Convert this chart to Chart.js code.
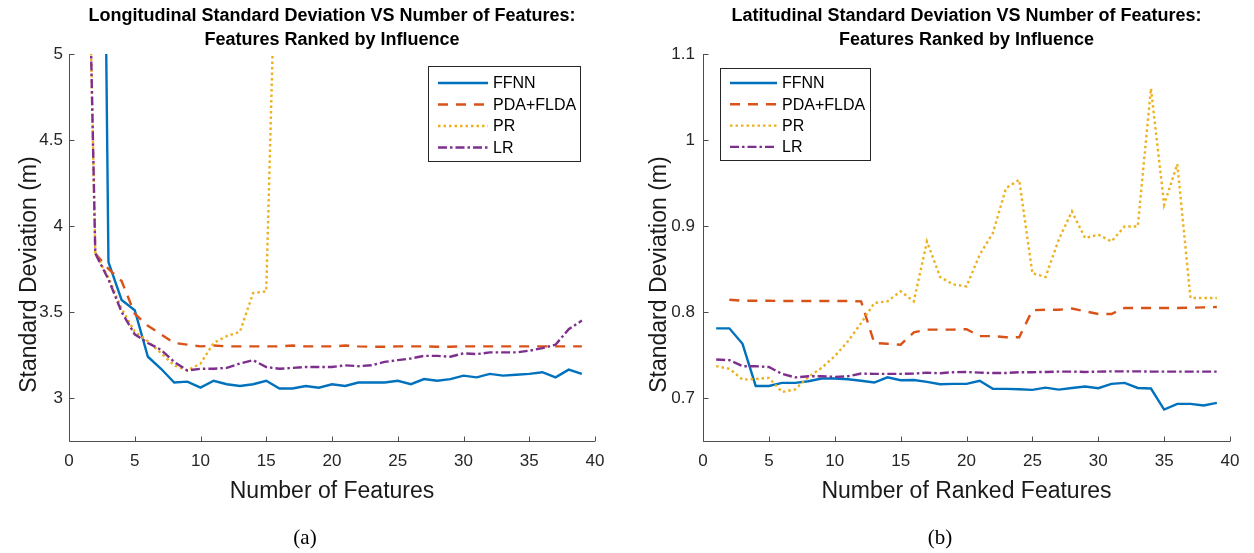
<!DOCTYPE html>
<html>
<head>
<meta charset="utf-8">
<title>Standard deviation vs number of features</title>
<script src="https://cdn.jsdelivr.net/npm/chart.js@4.4.1/dist/chart.umd.min.js"></script>
<style>
  body { margin: 0; background: #fff; }
  #wrap { position: relative; width: 1254px; height: 553px; overflow: hidden; }
  canvas { position: absolute; top: 0; }
  #lonChart { left: 0; }
  #latChart { left: 627px; }
  .caption {
    position: absolute; top: 525px; width: 60px; text-align: center;
    font-family: 'Liberation Serif', 'DejaVu Serif', serif; font-size: 21px; color: #000;
  }
</style>
</head>
<body>
<div id="wrap">
  <canvas id="lonChart" width="627" height="553"></canvas>
  <canvas id="latChart" width="627" height="553"></canvas>
  <div class="caption" style="left:275px">(a)</div>
  <div class="caption" style="left:910px">(b)</div>
</div>
<script>
// number of features used (x axis)
const features = [1, 2, 3, 4, 5, 6, 7, 8, 9, 10, 11, 12, 13, 14, 15, 16, 17, 18, 19, 20,
  21, 22, 23, 24, 25, 26, 27, 28, 29, 30, 31, 32, 33, 34, 35, 36, 37, 38, 39];

const xTicks = [0, 5, 10, 15, 20, 25, 30, 35, 40];
const lonTicks = [3, 3.5, 4, 4.5, 5];
const latTicks = [0.7, 0.8, 0.9, 1, 1.1];

const methods = ['FFNN', 'PDA+FLDA', 'PR', 'LR'];

// longitudinal standard deviation (m)
const ffnnLon = [20, 11, 3.79, 3.57, 3.51, 3.24, 3.17, 3.09, 3.095, 3.06,
  3.10, 3.08, 3.07, 3.08, 3.10, 3.055, 3.055, 3.07, 3.06, 3.08,
  3.07, 3.09, 3.09, 3.09, 3.10, 3.08, 3.11, 3.10, 3.11, 3.13,
  3.12, 3.14, 3.13, 3.135, 3.14, 3.15, 3.12, 3.165, 3.14];
const pdaLon = [null, 3.84, 3.75, 3.68, 3.49, 3.42, 3.37, 3.32, 3.31, 3.30,
  3.305, 3.30, 3.30, 3.30, 3.30, 3.30, 3.305, 3.30, 3.30, 3.30,
  3.305, 3.30, 3.298, 3.298, 3.30, 3.30, 3.30, 3.298, 3.298, 3.30,
  3.30, 3.30, 3.30, 3.30, 3.30, 3.30, 3.30, 3.30, 3.30];
const prLon = [7.5, 3.84, 3.70, 3.52, 3.385, 3.33, 3.26, 3.19, 3.16, 3.20,
  3.32, 3.36, 3.385, 3.61, 3.62, 6.5];
const lrLon = [7.5, 3.84, 3.69, 3.50, 3.37, 3.32, 3.28, 3.21, 3.16, 3.17,
  3.17, 3.175, 3.20, 3.22, 3.18, 3.17, 3.175, 3.18, 3.18, 3.18,
  3.19, 3.185, 3.19, 3.21, 3.22, 3.23, 3.245, 3.245, 3.24, 3.26,
  3.255, 3.265, 3.265, 3.265, 3.275, 3.29, 3.31, 3.40, 3.45];

// latitudinal standard deviation (m)
const ffnnLat = [0.781, 0.781, 0.763, 0.714, 0.714, 0.7176, 0.7176, 0.7195, 0.7226, 0.7226,
  0.7218, 0.720, 0.718, 0.724, 0.7207, 0.721, 0.7187, 0.716, 0.7164, 0.7164,
  0.720, 0.7106, 0.7106, 0.7102, 0.7094, 0.7121, 0.7098, 0.7117, 0.7133, 0.7114,
  0.7164, 0.7176, 0.7117, 0.711, 0.6866, 0.6932, 0.6932, 0.6913, 0.6944];
const pdaLat = [null, 0.8143, 0.813, 0.813, 0.813, 0.8128, 0.8128, 0.8128, 0.8128, 0.8128,
  0.8128, 0.8124, 0.764, 0.763, 0.762, 0.7764, 0.7795, 0.7795, 0.7795, 0.780,
  0.772, 0.772, 0.7706, 0.7706, 0.802, 0.8027, 0.8027, 0.804, 0.8008, 0.7977,
  0.7977, 0.8047, 0.8047, 0.8047, 0.8047, 0.8047, 0.805, 0.8054, 0.8058];
const prLat = [0.737, 0.734, 0.7215, 0.722, 0.7234, 0.707, 0.710, 0.7245, 0.735, 0.7486,
  0.766, 0.787, 0.8105, 0.8124, 0.824, 0.8124, 0.882, 0.8407, 0.832, 0.8298,
  0.8666, 0.8918, 0.944, 0.9537, 0.845, 0.8407, 0.884, 0.917, 0.886, 0.890,
  0.882, 0.8995, 0.8995, 1.060, 0.9247, 0.972, 0.8163, 0.8163, 0.8163];
const lrLat = [0.7447, 0.744, 0.737, 0.737, 0.736, 0.728, 0.724, 0.7253, 0.7253, 0.7245,
  0.7253, 0.7284, 0.728, 0.728, 0.728, 0.7284, 0.7295, 0.7288, 0.730, 0.7303,
  0.7295, 0.729, 0.729, 0.730, 0.730, 0.7303, 0.7307, 0.7307, 0.7303, 0.7307,
  0.731, 0.731, 0.731, 0.7307, 0.7307, 0.7307, 0.7307, 0.7307, 0.7307];

const FONT = "'Liberation Sans', Arial, Helvetica, sans-serif";
Chart.defaults.font.family = FONT;
Chart.defaults.color = '#262626';

// MATLAB default colour order and line styles
const lineStyles = [
  { color: '#0072BD', dash: [] },
  { color: '#D95319', dash: [10, 8] },
  { color: '#EDB120', dash: [2.5, 3] },
  { color: '#7E2F8E', dash: [9, 3, 2.5, 3] }
];

function makeDatasets(series) {
  return series.map((values, i) => ({
    label: methods[i],
    data: values,
    borderColor: lineStyles[i].color,
    borderDash: lineStyles[i].dash,
    borderWidth: 2.4,
    pointRadius: 0,
    tension: 0,
    fill: false,
    order: series.length - i // later series drawn on top
  }));
}

// axis lines with tick marks pointing into the plot
const inwardTicks = {
  id: 'inwardTicks',
  afterDraw(chart) {
    const { ctx, chartArea: a, scales: { x, y } } = chart;
    ctx.save();
    ctx.strokeStyle = '#4d4d4d';
    ctx.lineWidth = 1;
    ctx.beginPath();
    const left = Math.round(a.left) + 0.5;
    const bottom = Math.round(a.bottom) + 0.5;
    ctx.moveTo(left, Math.round(a.top));
    ctx.lineTo(left, bottom);
    ctx.lineTo(Math.round(a.right), bottom);
    x.ticks.forEach(t => {
      const px = Math.round(x.getPixelForValue(t.value)) + 0.5;
      ctx.moveTo(px, bottom);
      ctx.lineTo(px, bottom - 5);
    });
    y.ticks.forEach(t => {
      const py = Math.round(y.getPixelForValue(t.value)) + 0.5;
      ctx.moveTo(left, py);
      ctx.lineTo(left + 5, py);
    });
    ctx.stroke();
    ctx.restore();
  }
};

// rotated y axis label, set a little below the axis middle
const yLabel = {
  id: 'yLabel',
  afterDraw(chart, args, opts) {
    const { ctx, chartArea: a } = chart;
    ctx.save();
    ctx.translate(opts.x, a.top + (a.bottom - a.top) * opts.at);
    ctx.rotate(-Math.PI / 2);
    ctx.font = opts.fontSize + 'px ' + FONT;
    ctx.fillStyle = '#1a1a1a';
    ctx.textAlign = 'center';
    ctx.textBaseline = 'middle';
    ctx.fillText(opts.text, 0, 0);
    ctx.restore();
  }
};

// boxed legend placed inside the plot area
const boxLegend = {
  id: 'boxLegend',
  afterDraw(chart, args, opts) {
    const { ctx, chartArea: a } = chart;
    const x0 = opts.side === 'right' ? a.right - opts.offsetX - opts.width : a.left + opts.offsetX;
    const y0 = a.top + opts.offsetY;
    ctx.save();
    ctx.fillStyle = '#fff';
    ctx.fillRect(x0, y0, opts.width, opts.height);
    ctx.strokeStyle = '#262626';
    ctx.lineWidth = 1;
    ctx.strokeRect(Math.round(x0) + 0.5, Math.round(y0) + 0.5, opts.width, opts.height);
    ctx.font = opts.fontSize + 'px ' + FONT;
    ctx.textBaseline = 'middle';
    chart.data.datasets.forEach((ds, i) => {
      const cy = y0 + opts.rowTop + i * opts.rowGap;
      ctx.beginPath();
      ctx.strokeStyle = ds.borderColor;
      ctx.lineWidth = 2.4;
      ctx.setLineDash(ds.borderDash);
      ctx.moveTo(x0 + 10, cy);
      ctx.lineTo(x0 + opts.sample, cy);
      ctx.stroke();
      ctx.setLineDash([]);
      ctx.fillStyle = '#000';
      ctx.fillText(ds.label, x0 + opts.sample + 5, cy + 1);
    });
    ctx.restore();
  }
};

function buildOptions(cfg) {
  return {
    responsive: false,
    animation: false,
    devicePixelRatio: 1,
    layout: { padding: { left: 0, right: cfg.padRight, top: 0, bottom: 43 } },
    plugins: {
      legend: { display: false },
      tooltip: { enabled: false },
      title: {
        display: true,
        text: cfg.title,
        fullSize: false,
        color: '#000',
        font: { size: 18, weight: 'bold', lineHeight: 1.3334 },
        padding: { top: 4, bottom: 2 }
      },
      yLabel: { text: 'Standard Deviation (m)', x: cfg.yTitleX, at: 0.57, fontSize: 23 },
      boxLegend: cfg.legend
    },
    scales: {
      x: {
        type: 'linear',
        min: 0,
        max: 40,
        afterBuildTicks: s => { s.ticks = xTicks.map(v => ({ value: v })); },
        afterFit: s => { s.height = 69; },
        grid: { display: false, drawTicks: false },
        border: { display: false },
        ticks: { font: { size: 17 }, color: '#262626', padding: 10, maxRotation: 0, autoSkip: false },
        title: {
          display: true, text: cfg.xTitle, color: '#1a1a1a',
          font: { size: 23 }, padding: { top: 0, bottom: 5 }
        }
      },
      y: {
        type: 'linear',
        min: cfg.yMin,
        max: cfg.yMax,
        afterBuildTicks: s => { s.ticks = cfg.yTicks.map(v => ({ value: v })); },
        afterFit: s => { s.width = cfg.axisWidth; },
        grid: { display: false, drawTicks: false },
        border: { display: false },
        ticks: { font: { size: 17 }, color: '#262626', padding: cfg.tickPad, callback: v => String(v) },
        title: { display: false }
      }
    }
  };
}

new Chart(document.getElementById('lonChart'), {
  type: 'line',
  data: { labels: features, datasets: makeDatasets([ffnnLon, pdaLon, prLon, lrLon]) },
  options: buildOptions({
    title: ['Longitudinal Standard Deviation VS Number of Features:', 'Features Ranked by Influence'],
    xTitle: 'Number of Features',
    yMin: 2.75, yMax: 5, yTicks: lonTicks,
    axisWidth: 69, padRight: 32, tickPad: 6, yTitleX: 30,
    legend: { side: 'right', offsetX: 15, offsetY: 12, width: 152, height: 95,
      rowTop: 17, rowGap: 21.5, sample: 60, fontSize: 16 }
  }),
  plugins: [inwardTicks, yLabel, boxLegend]
});

new Chart(document.getElementById('latChart'), {
  type: 'line',
  data: { labels: features, datasets: makeDatasets([ffnnLat, pdaLat, prLat, lrLat]) },
  options: buildOptions({
    title: ['Latitudinal Standard Deviation VS Number of Features:', 'Features Ranked by Influence'],
    xTitle: 'Number of Ranked Features',
    yMin: 0.65, yMax: 1.1, yTicks: latTicks,
    axisWidth: 76, padRight: 24, tickPad: 8, yTitleX: 33,
    legend: { side: 'left', offsetX: 17, offsetY: 14, width: 150, height: 92,
      rowTop: 15, rowGap: 21.3, sample: 57, fontSize: 16 }
  }),
  plugins: [inwardTicks, yLabel, boxLegend]
});
</script>
</body>
</html>
